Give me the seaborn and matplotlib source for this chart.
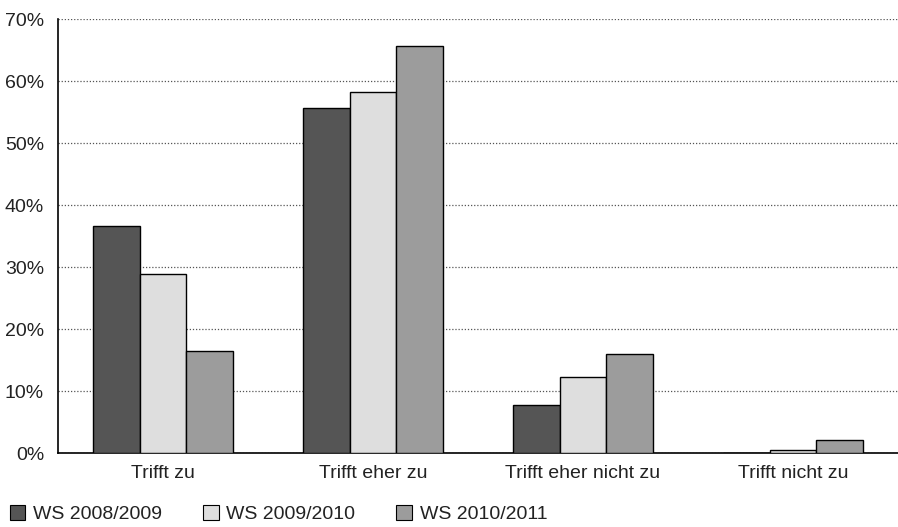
import matplotlib
matplotlib.use("Agg")
import matplotlib.pyplot as plt
import seaborn as sns
import pandas as pd
from matplotlib.ticker import FuncFormatter, FixedLocator
from matplotlib.patches import Patch

categories = ["Trifft zu", "Trifft eher zu", "Trifft eher nicht zu", "Trifft nicht zu"]
series = ["WS 2008/2009", "WS 2009/2010", "WS 2010/2011"]
ws_2008 = [36.6, 55.7, 7.8, 0.0]
ws_2009 = [28.9, 58.3, 12.3, 0.5]
ws_2010 = [16.4, 65.6, 16.0, 2.1]
colors = ["#555555", "#dedede", "#9c9c9c"]

rows = []
for s, vals in zip(series, [ws_2008, ws_2009, ws_2010]):
    for c, v in zip(categories, vals):
        rows.append({"cat": c, "series": s, "val": v})
df = pd.DataFrame(rows)

sns.set_style("white")
plt.rcParams["font.family"] = ["Liberation Sans", "DejaVu Sans"]

fig = plt.figure(figsize=(8.98, 5.27), dpi=100)
ax = fig.add_axes([58/898, 1-453/527, 840/898, (453-19)/527])

sns.barplot(data=df, x="cat", y="val", hue="series", order=categories,
            hue_order=series, palette=colors, width=0.67, edgecolor="black",
            linewidth=1.0, ax=ax, legend=False, zorder=3)

ax.set_ylim(0, 70)
ax.set_xlim(-0.5, 3.5)
ax.set_yticks(range(0, 71, 10))
ax.yaxis.set_major_formatter(FuncFormatter(lambda v, p: f"{int(v)}%"))
ax.yaxis.grid(True, linestyle=(0, (1, 1.5)), color="#555555", linewidth=0.9, zorder=0)
ax.set_axisbelow(True)
ax.set_xlabel("")
ax.set_ylabel("")

for side in ["top", "right"]:
    ax.spines[side].set_visible(False)
for side in ["left", "bottom"]:
    ax.spines[side].set_color("black")
    ax.spines[side].set_linewidth(1.2)

ax.tick_params(axis="y", which="major", direction="out", length=8, width=1.2,
               labelsize=14, colors="black", pad=2, labelcolor="#222222")
ax.tick_params(axis="x", which="major", length=0, labelsize=14, pad=9, labelcolor="#222222")
ax.xaxis.set_minor_locator(FixedLocator([-0.5, 0.5, 1.5, 2.5]))
ax.tick_params(axis="x", which="minor", direction="out", length=8, width=1.2, colors="black")

handles = [Patch(facecolor=c, edgecolor="black", linewidth=0.8) for c in colors]
fig.legend(handles, series, loc="center left", bbox_to_anchor=(0.0045, 1 - 514/527), ncol=3,
           frameon=False, fontsize=14, handlelength=0.8, handleheight=0.8,
           handletextpad=0.4, columnspacing=2.1, labelcolor="#222222",
           borderaxespad=0, borderpad=0.3)

fig.savefig("out.png", dpi=100)
